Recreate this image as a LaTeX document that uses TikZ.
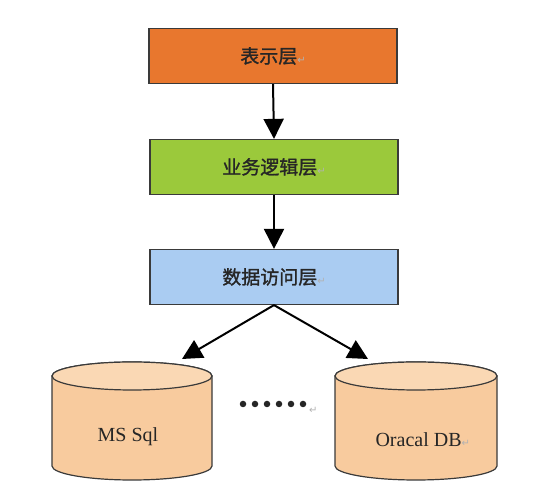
\documentclass[tikz,border=0pt]{standalone}
\usepackage{fontspec}
\setmainfont{Liberation Serif}
\newfontfamily\cjk[FakeBold=1.2]{Noto Sans CJK SC}
\newfontfamily\symf{DejaVu Sans}
\usetikzlibrary{arrows.meta}
\definecolor{orangebox}{HTML}{E8772E}
\definecolor{greenbox}{HTML}{9BC93B}
\definecolor{bluebox}{HTML}{AACCF2}
\definecolor{dbbody}{HTML}{F8CB9E}
\definecolor{dbtop}{HTML}{FAD8B4}
\definecolor{edge}{HTML}{3A3A3A}
\definecolor{txt}{HTML}{262626}
\newcommand{\pmark}{{\symf\fontsize{10}{10}\selectfont\color{gray!60}↵}}
\tikzset{
  layer/.style={draw=edge, line width=1.2pt, minimum width=248pt, minimum height=55pt,
    inner sep=0pt, font=\cjk\fontsize{19}{22}\selectfont, text=txt},
  conn/.style={line width=2pt, -{Triangle[length=20pt,width=20pt]}},
  dblabel/.style={font=\fontsize{20}{24}\selectfont, text=txt},
  dot/.style={circle, fill=txt, inner sep=0pt, minimum size=6.5pt}
}
\begin{document}
\begin{tikzpicture}[x=1pt,y=1pt]
\useasboundingbox[fill=white] (0,0) rectangle (548,502);
% layers
\node[layer, fill=orangebox] (pres) at (273,446) {表示层\pmark};
\node[layer, fill=greenbox] (biz) at (274,335) {业务逻辑层\pmark};
\node[layer, fill=bluebox] (dal) at (274,225) {数据访问层\pmark};
% cylinders
\foreach \cx/\rx in {132/80, 416/81}{
  \path[fill=dbbody, draw=edge, line width=1.2pt]
    (\cx-\rx,126) -- (\cx-\rx,36) arc[start angle=180, end angle=360, x radius=\rx, y radius=14]
    -- (\cx+\rx,126) arc[start angle=0, end angle=180, x radius=\rx, y radius=14] -- cycle;
  \path[fill=dbtop, draw=edge, line width=1.2pt] (\cx,126) ellipse[x radius=\rx, y radius=14];
}
\node[dblabel] (mssql) at (128,65) {MS Sql};
\node[dblabel, anchor=west] (oracle) at (372,62) {Oracal DB\pmark};
% dots
\foreach \i in {0,...,5}{ \node[dot] (d\i) at (243+12*\i,98) {}; }
\node[anchor=west, inner sep=0pt] (dotsmark) at (309,92) {\pmark};
\coordinate (dbl) at (182,143);
\coordinate (dbr) at (368,143);
% connectors
\draw[conn] (pres.south) -- (biz.north);
\draw[conn] (biz.south) -- (dal.north);
\draw[conn] (dal.south) -- (dbl);
\draw[conn] (dal.south) -- (dbr);
\end{tikzpicture}
\end{document}
